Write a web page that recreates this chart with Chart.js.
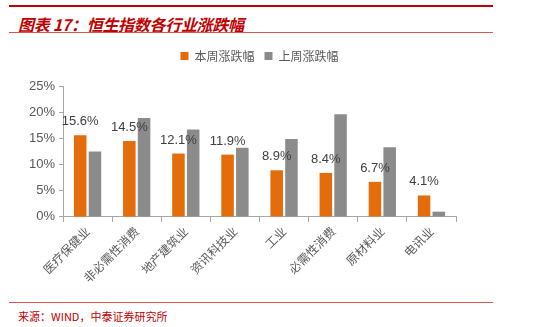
<!DOCTYPE html>
<html>
<head>
<meta charset="utf-8">
<script src="https://cdn.jsdelivr.net/npm/chart.js@4.4.1/dist/chart.umd.min.js"></script>
<style>
    body { margin: 0; width: 550px; height: 327px; background: #fff; position: relative; overflow: hidden; font-family: "Noto Sans CJK SC", sans-serif; }
    .topline { position: absolute; left: 9px; top: 5px; width: 484px; height: 2px; background: #C00000; }
    .thinline { position: absolute; left: 9px; width: 484px; height: 1px; background: #D9534F; }
    .title { position: absolute; left: 18px; top: 12px; font-size: 16px; font-weight: bold; font-style: italic; color: #C00000; white-space: nowrap; letter-spacing: -0.3px; }
    .source { position: absolute; left: 18px; top: 308px; font-size: 11px; color: #C00000; white-space: nowrap; }
    #wrap { position: absolute; left: 0; top: 40px; width: 500px; height: 255px; }
</style>
</head>
<body>
<div class="topline"></div>
<div class="title">图表 17：恒生指数各行业涨跌幅</div>
<div class="thinline" style="top:32px"></div>
<div id="wrap"><canvas id="barchart" width="500" height="255"></canvas></div>
<div class="thinline" style="top:302px"></div>
<div class="source">来源：WIND，中泰证券研究所</div>

<script>
const categories = ['医疗保健业', '非必需性消费', '地产建筑业', '资讯科技业', '工业', '必需性消费', '原材料业', '电讯业'];
const thisWeek = [15.6, 14.5, 12.1, 11.9, 8.9, 8.4, 6.7, 4.1];
const lastWeek = [12.5, 18.9, 16.7, 13.2, 14.9, 19.6, 13.3, 1.0];
const yTicks = [0, 5, 10, 15, 20, 25];

// value labels above the orange bars
const barValueLabels = {
    id: 'barValueLabels',
    afterDatasetsDraw(chart) {
        const ctx = chart.ctx;
        const meta = chart.getDatasetMeta(0);
        ctx.save();
        ctx.font = '13px "Liberation Sans", Arial, sans-serif';
        ctx.fillStyle = '#404040';
        ctx.textAlign = 'center';
        ctx.textBaseline = 'alphabetic';
        meta.data.forEach(function (bar, i) {
            ctx.fillText(thisWeek[i].toFixed(1) + '%', bar.x, bar.y - 10);
        });
        ctx.restore();
    }
};

// extra room between legend and plot
const legendGap = {
    id: 'legendGap',
    beforeInit(chart) {
        const fit = chart.legend.fit;
        chart.legend.fit = function () {
            fit.bind(chart.legend)();
            this.height += 14;
        };
    }
};

const ctx = document.getElementById('barchart');
new Chart(ctx, {
    type: 'bar',
    data: {
        labels: categories,
        datasets: [
            {
                label: '本周涨跌幅',
                data: thisWeek,
                backgroundColor: '#E46C0A',
                categoryPercentage: 0.6,
                barPercentage: 0.85
            },
            {
                label: '上周涨跌幅',
                data: lastWeek,
                backgroundColor: '#8B8B8B',
                categoryPercentage: 0.6,
                barPercentage: 0.85
            }
        ]
    },
    options: {
        responsive: false,
        animation: false,
        layout: {
            padding: { left: 25, right: 44, top: 0, bottom: 8 }
        },
        scales: {
            y: {
                min: 0,
                max: 25,
                afterBuildTicks: function (scale) {
                    scale.ticks = yTicks.map(v => ({ value: v }));
                },
                ticks: {
                    color: '#595959',
                    font: { size: 13, family: '"Liberation Sans", Arial, sans-serif' },
                    padding: 4,
                    callback: v => v + '%'
                },
                border: { display: true, color: '#A6A6A6', width: 1 },
                grid: { drawOnChartArea: false, drawTicks: true, tickLength: 4, color: '#A6A6A6' }
            },
            x: {
                ticks: {
                    color: '#595959',
                    font: { size: 12, family: '"Noto Sans CJK SC", sans-serif' },
                    minRotation: 45,
                    maxRotation: 45,
                    padding: 2
                },
                border: { display: true, color: '#A6A6A6', width: 1 },
                grid: { drawOnChartArea: false, drawTicks: true, tickLength: 5, color: '#A6A6A6', offset: true }
            }
        },
        plugins: {
            legend: {
                display: true,
                position: 'top',
                fullSize: false,
                labels: {
                    color: '#595959',
                    font: { size: 12, family: '"Noto Sans CJK SC", sans-serif' },
                    boxWidth: 8,
                    boxHeight: 8,
                    padding: 10
                }
            },
            tooltip: { enabled: false }
        }
    },
    plugins: [barValueLabels, legendGap]
});
</script>
</body>
</html>
